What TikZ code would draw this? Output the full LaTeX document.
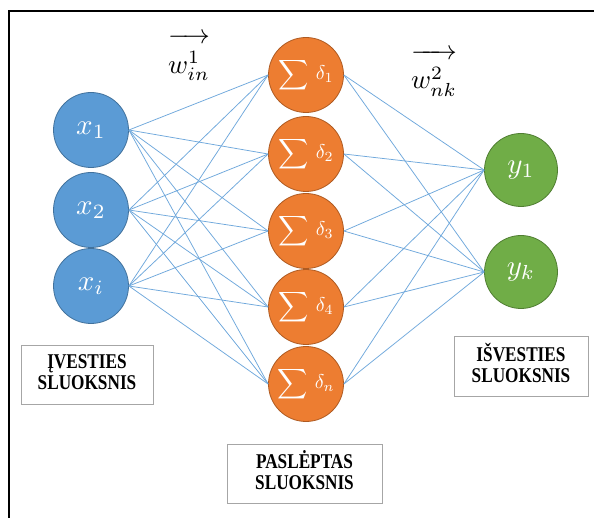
\documentclass[tikz,border=0pt]{standalone}
\usepackage{amsmath}
\usepackage{fontspec}
\setmainfont{Liberation Serif}
\definecolor{inblue}{HTML}{5B9BD5}
\definecolor{inblueb}{HTML}{41719C}
\definecolor{hidor}{HTML}{ED7D31}
\definecolor{hidorb}{HTML}{AE5A21}
\definecolor{outgr}{HTML}{70AD47}
\definecolor{outgrb}{HTML}{507E32}
\definecolor{linkc}{HTML}{6FA8DC}
\definecolor{boxb}{HTML}{A6A6A6}
\tikzset{
  neuron/.style={circle, minimum size=75pt, inner sep=0pt, line width=0.8pt, text=white},
  inneuron/.style={neuron, fill=inblue, draw=inblueb},
  hidneuron/.style={neuron, fill=hidor, draw=hidorb},
  outneuron/.style={neuron, fill=outgr, draw=outgrb, minimum size=73pt},
  link/.style={draw=linkc, line width=0.75pt},
  layerbox/.style={draw=boxb, line width=1pt, fill=white, inner sep=0pt, font=\fontsize{21}{21}\selectfont\bfseries},
  wlabel/.style={inner sep=0pt}
}
\newcommand{\boxtext}[2]{\scalebox{0.82}[1]{\begin{tabular}{@{}c@{}}#1\\#2\end{tabular}}}
\newcommand{\hidlab}[1]{\scalebox{2.1}{$\displaystyle\sum\,\raisebox{0.3pt}{\scalebox{0.95}{$\delta_{#1}$}}$}}
\newcommand{\neulab}[1]{\scalebox{2.9}{$#1$}}
\newcommand{\wlab}[2]{\scalebox{2.7}{$\overrightarrow{\rule{0pt}{1.1em}w^{#1}_{#2}}$}}
\begin{document}
\begin{tikzpicture}[x=1pt,y=-1pt]
\useasboundingbox (0,0) rectangle (594,518);
\fill[white] (0,0) rectangle (594,518);
\draw[line width=2pt] (9,518) -- (9,11) -- (594,11);

\node[inneuron] (x1) at (91,130) {\neulab{x_1}};
\node[inneuron] (x2) at (91,210) {\neulab{x_2}};
\node[inneuron] (x3) at (91,286) {\neulab{x_i}};

\node[hidneuron] (h1) at (306,75) {\hidlab{1}};
\node[hidneuron] (h2) at (306,154) {\hidlab{2}};
\node[hidneuron] (h3) at (306,231) {\hidlab{3}};
\node[hidneuron] (h4) at (306,307) {\hidlab{4}};
\node[hidneuron] (h5) at (306,384) {\hidlab{n}};

\node[outneuron] (y1) at (521,170) {\neulab{y_1}};
\node[outneuron] (y2) at (521,272) {\neulab{y_k}};

\foreach \i in {1,2,3}
  \foreach \j in {1,...,5}
    \draw[link] (x\i.east) -- (h\j.west);
\foreach \j in {1,...,5}
  \foreach \k in {1,2}
    \draw[link] (h\j.east) -- (y\k.west);

\node[wlabel] (win) at (189,57) {\wlab{1}{in}};
\node[wlabel] (wnk) at (434,73) {\wlab{2}{nk}};

\node[layerbox, minimum width=132pt, minimum height=58pt] (bin) at (87,375) {\boxtext{ĮVESTIES}{SLUOKSNIS}};
\node[layerbox, minimum width=134pt, minimum height=59pt] (bout) at (521,366.5) {\boxtext{IŠVESTIES}{SLUOKSNIS}};
\node[layerbox, minimum width=155pt, minimum height=59pt] (bhid) at (304.5,473.5) {\boxtext{PASLĖPTAS}{SLUOKSNIS}};
\end{tikzpicture}
\end{document}
